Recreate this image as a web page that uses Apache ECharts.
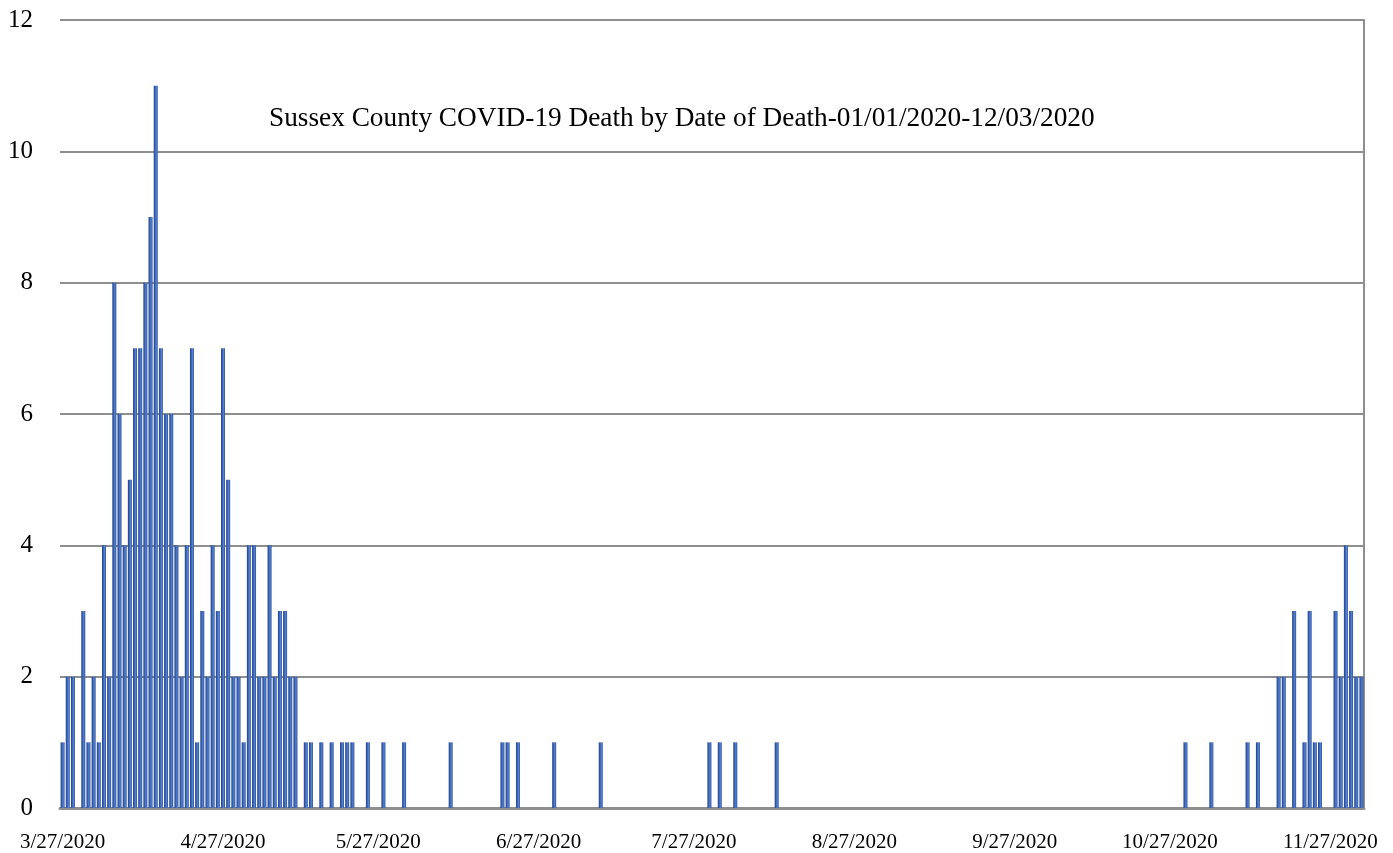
<!DOCTYPE html>
<html>
<head>
<meta charset="utf-8">
<title>Sussex County COVID-19 Deaths</title>
<script src="https://cdn.jsdelivr.net/npm/echarts@6/dist/echarts.min.js"></script>
<style>
  html, body { margin: 0; padding: 0; background: #ffffff; }
  #chart { width: 1393px; height: 853px; }
</style>
</head>
<body>
<div id="chart"></div>
<script>
// Daily deaths by date of death, one small array per month (2020).
const mar = [1, 2, 2, 0, 3];                                   // 3/27 - 3/31
const apr = [1, 2, 1, 4, 2, 8, 6, 4, 5, 7,
             7, 8, 9, 11, 7, 6, 6, 4, 2, 4,
             7, 1, 3, 2, 4, 3, 7, 5, 2, 2];
const may = [1, 4, 4, 2, 2, 4, 2, 3, 3, 2,
             2, 0, 1, 1, 0, 1, 0, 1, 0, 1,
             1, 1, 0, 0, 1, 0, 0, 1, 0, 0, 0];
const jun = [1, 0, 0, 0, 0, 0, 0, 0, 0, 1,
             0, 0, 0, 0, 0, 0, 0, 0, 0, 1,
             1, 0, 1, 0, 0, 0, 0, 0, 0, 1];
const jul = [0, 0, 0, 0, 0, 0, 0, 0, 1, 0,
             0, 0, 0, 0, 0, 0, 0, 0, 0, 0,
             0, 0, 0, 0, 0, 0, 0, 0, 0, 1, 0];
const aug = [1, 0, 0, 1, 0, 0, 0, 0, 0, 0,
             0, 1, 0, 0, 0, 0, 0, 0, 0, 0,
             0, 0, 0, 0, 0, 0, 0, 0, 0, 0, 0];
const sep = [0, 0, 0, 0, 0, 0, 0, 0, 0, 0,
             0, 0, 0, 0, 0, 0, 0, 0, 0, 0,
             0, 0, 0, 0, 0, 0, 0, 0, 0, 0];
const oct = [0, 0, 0, 0, 0, 0, 0, 0, 0, 0,
             0, 0, 0, 0, 0, 0, 0, 0, 0, 0,
             0, 0, 0, 0, 0, 0, 0, 0, 0, 1, 0];
const nov = [0, 0, 0, 1, 0, 0, 0, 0, 0, 0,
             1, 0, 1, 0, 0, 0, 2, 2, 0, 3,
             0, 1, 3, 1, 1, 0, 0, 3, 2, 4];
const dec = [3, 2, 2];                                          // 12/1 - 12/3

// Month segments: month number, first day shown, values
const segments = [
  [3, 27, mar], [4, 1, apr], [5, 1, may], [6, 1, jun], [7, 1, jul],
  [8, 1, aug], [9, 1, sep], [10, 1, oct], [11, 1, nov], [12, 1, dec]
];

const tickLabels = ['3/27/2020', '4/27/2020', '5/27/2020', '6/27/2020', '7/27/2020',
                    '8/27/2020', '9/27/2020', '10/27/2020', '11/27/2020'];
const yTicks = [0, 2, 4, 6, 8, 10, 12];
const chartTitle = 'Sussex County COVID-19 Death by Date of Death-01/01/2020-12/03/2020';

const categories = [];
const deaths = [];
segments.forEach(([m, first, vals]) => {
  vals.forEach((v, i) => {
    categories.push(m + '/' + (first + i) + '/2020');
    deaths.push(v);
  });
});

const serif = '"Liberation Serif", "Times New Roman", serif';
const gridGray = '#8e8e8e';

const chart = echarts.init(document.getElementById('chart'), null, { renderer: 'canvas' });
chart.setOption({
  animation: false,
  backgroundColor: '#ffffff',
  title: {
    text: chartTitle,
    left: 264,
    top: 100,
    textStyle: { fontFamily: serif, fontSize: 27.3, fontWeight: 'normal', color: '#000000' }
  },
  grid: { left: 60, right: 29, top: 20, bottom: 42, containLabel: false },
  xAxis: {
    type: 'category',
    data: categories,
    boundaryGap: true,
    axisTick: { show: false },
    axisLine: { show: true, lineStyle: { color: gridGray, width: 3 } },
    axisLabel: {
      interval: (idx, val) => tickLabels.includes(val),
      fontFamily: serif,
      fontSize: 21,
      color: '#000000',
      margin: 24
    },
    splitLine: { show: false }
  },
  yAxis: [
    {
      type: 'value',
      min: yTicks[0],
      max: yTicks[yTicks.length - 1],
      interval: 2,
      axisLine: { show: false },
      axisTick: { show: false },
      axisLabel: { fontFamily: serif, fontSize: 25, color: '#000000', margin: 27 },
      splitLine: { show: true, lineStyle: { color: gridGray, width: 2 } }
    },
    {
      type: 'value',
      position: 'right',
      min: yTicks[0],
      max: yTicks[yTicks.length - 1],
      interval: 2,
      axisLine: { show: true, lineStyle: { color: gridGray, width: 2 } },
      axisTick: { show: false },
      axisLabel: { show: false },
      splitLine: { show: false }
    }
  ],
  series: [{
    type: 'bar',
    name: 'Deaths',
    data: deaths,
    yAxisIndex: 0,
    barWidth: 4,
    itemStyle: {
      color: new echarts.graphic.LinearGradient(0, 0, 1, 0, [
        { offset: 0, color: '#213f7e' },
        { offset: 0.35, color: '#3a64b8' },
        { offset: 0.65, color: '#5682d0' },
        { offset: 1, color: '#284e98' }
      ])
    }
  }]
});
</script>
</body>
</html>
